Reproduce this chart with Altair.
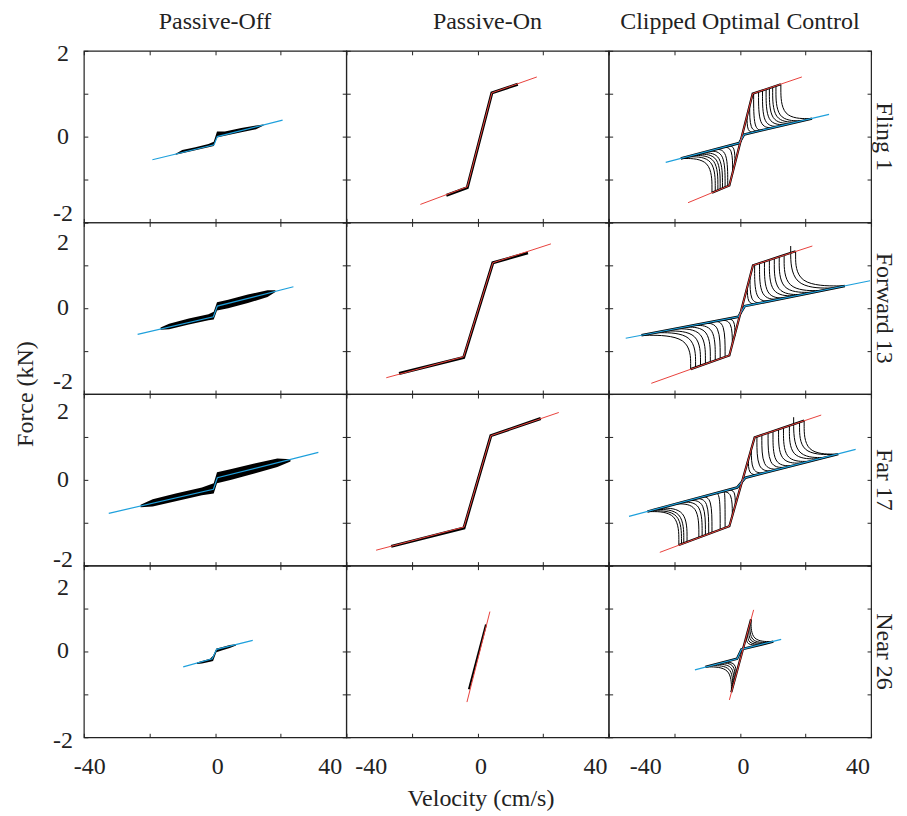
import altair as alt
import pandas as pd

FONT = "Liberation Serif"
FS = 24
INK = "#222222"
BLUE = "#1ea0dc"
RED = "#e8413c"
W, H = 263, 172

# ---------------- text ----------------
col_titles = ["Passive-Off", "Passive-On", "Clipped Optimal Control"]
row_titles = ["Fling 1", "Forward 13", "Far 17", "Near 26"]
x_title = "Velocity (cm/s)"
y_title = "Force (kN)"
x_tick_values = [-40, -20, 0, 20, 40]
y_tick_values = [-2, -1, 0, 1, 2]
x_tick_labels = ["-40", "0", "40"]
y_tick_labels = ["2", "0", "-2"]
# where the printed tick labels sit in the figure (data units)
y_label_at = [[1.93, 0, -1.8], [1.52, 0, -1.73], [1.58, 0, -1.86], [1.48, 0, -2.09]]
x_label_at = [[-38.2, 0.8, 35.1], [-32.4, 1.1, 36.0], [-28.7, 1.1, 36.0]]

# ---------------- Fling 1 ----------------
fling_off_blue = [(-19.1, -0.54), (-0.3, -0.19), (0.7, 0.0), (20.6, 0.385)]
fling_off_band = [(-12, -0.42, -0.40), (-10, -0.39, -0.31), (-6, -0.32, -0.25), (-2, -0.25, -0.17),
                  (-0.4, -0.22, -0.12), (0.6, -0.02, 0.12), (3, 0.02, 0.12), (8, 0.10, 0.20),
                  (12.5, 0.17, 0.26), (14.8, 0.26, 0.28)]
fling_on_red = [(-17.4, -1.58), (-3.1, -1.17), (4.4, 1.02), (18.1, 1.39)]
fling_on_black = [(-9.5, -1.37), (-3.1, -1.19), (4.4, 1.02), (12.3, 1.22)]
fling_coc_red = [(-15.8, -1.54), (-3.2, -1.14), (3.9, 1.0), (18.9, 1.39)]
fling_coc_blue = [(-22.6, -0.6), (-0.2, -0.15), (1.3, 0.05), (27.2, 0.52)]
fling_coc_red_black = [(-8.5, -1.31), (-3.2, -1.14), (3.9, 1.0), (12.5, 1.22)]
fling_coc_blue_black = [(-18, -0.51), (-0.2, -0.15), (1.3, 0.05), (22, 0.42)]
fling_coc_up = [(2.2, 0.5, 4.5, 0.1), (3.0, 0.75, 6, 0.13),
                (4.2, 1.01, 7, 0.15), (5.7, 1.05, 10, 0.21), (6.9, 1.08, 12, 0.24), (8.0, 1.11, 14, 0.28),
                (9.0, 1.13, 16, 0.31), (10.0, 1.16, 17.5, 0.34), (11.0, 1.18, 19, 0.37), (12.5, 1.22, 22, 0.42)]
fling_coc_down = [(-1.5, -0.65, -3.5, -0.22), (-2.2, -0.85, -5, -0.25),
                  (-8.5, -1.31, -18, -0.51), (-7.5, -1.28, -16, -0.47), (-6.7, -1.25, -14.5, -0.44),
                  (-6.0, -1.23, -13, -0.41), (-5.3, -1.21, -11.5, -0.38), (-4.5, -1.18, -9.5, -0.34),
                  (-3.7, -1.16, -7.5, -0.30)]

# ---------------- Forward 13 ----------------
forward_off_blue = [(-23.6, -0.61), (-0.5, -0.2), (0.7, 0.05), (23.9, 0.50)]
forward_off_band = [(-16.6, -0.50, -0.45), (-14, -0.49, -0.36), (-8, -0.38, -0.24), (-2, -0.28, -0.14),
                    (-0.4, -0.26, -0.08), (0.6, -0.05, 0.14), (4, 0.0, 0.2), (10, 0.12, 0.32),
                    (16, 0.26, 0.42), (18.4, 0.38, 0.42)]
forward_on_red = [(-27.8, -1.62), (-4.2, -1.13), (4.7, 1.06), (22.4, 1.5)]
forward_on_black = [(-23.9, -1.52), (-4.2, -1.15), (4.7, 1.06), (15.4, 1.29)]
forward_coc_red = [(-27.0, -1.75), (-3.2, -1.1), (4.0, 1.0), (22.1, 1.45)]
forward_coc_blue = [(-34.8, -0.7), (-0.5, -0.2), (1.5, 0.05), (39.7, 0.64)]
forward_coc_red_black = [(-15, -1.42), (-3.2, -1.1), (4.0, 1.0), (17, 1.33)]
forward_coc_blue_black = [(-30, -0.63), (-0.5, -0.2), (1.5, 0.05), (32, 0.52)]
forward_coc_up = [(2.3, 0.5, 5, 0.1), (3.1, 0.75, 6.5, 0.13),
                  (4.5, 1.01, 9, 0.17), (6, 1.05, 12, 0.21), (7.5, 1.09, 14, 0.24), (9, 1.13, 17, 0.29),
                  (10.5, 1.16, 19, 0.32), (12, 1.2, 22, 0.37), (13.5, 1.24, 25, 0.41), (15.5, 1.45, 29, 0.47),
                  (17, 1.33, 32, 0.52)]
forward_coc_down = [(-1.5, -0.65, -4, -0.25), (-2.3, -0.88, -6, -0.28),
                    (-4.5, -1.14, -8, -0.31), (-6, -1.18, -11, -0.35), (-7.5, -1.22, -14, -0.40),
                    (-9, -1.26, -17, -0.44), (-10.5, -1.30, -20, -0.48), (-12, -1.34, -23, -0.53),
                    (-13.5, -1.38, -26, -0.57), (-15, -1.42, -30, -0.63)]

# ---------------- Far 17 ----------------
far_off_blue = [(-32.4, -0.78), (-0.5, -0.22), (0.7, 0.05), (31.5, 0.64)]
far_off_band = [(-22.7, -0.64, -0.58), (-19, -0.62, -0.45), (-12, -0.50, -0.32), (-4, -0.36, -0.18),
                (-0.4, -0.32, -0.08), (0.6, -0.08, 0.18), (5, 0.0, 0.25), (12, 0.15, 0.38),
                (19, 0.3, 0.5), (23, 0.43, 0.48)]
far_on_red = [(-30.9, -1.64), (-4.1, -1.1), (4.1, 1.03), (24.8, 1.57)]
far_on_black = [(-26.3, -1.55), (-4.1, -1.12), (4.1, 1.03), (19.3, 1.43)]
far_coc_red = [(-24.4, -1.69), (-3.2, -1.08), (4.5, 0.99), (24.8, 1.51)]
far_coc_blue = [(-33.8, -0.85), (-0.85, -0.18), (1.7, 0.05), (35.3, 0.71)]
far_coc_red_black = [(-18.6, -1.52), (-3.2, -1.08), (4.5, 0.99), (19.6, 1.38)]
far_coc_blue_black = [(-28.2, -0.74), (-0.85, -0.18), (1.7, 0.05), (30, 0.6)]
far_coc_up = [(2.6, 0.5, 5.5, 0.12), (3.5, 0.75, 7.5, 0.16),
              (5.2, 1.01, 9.8, 0.21), (6.7, 1.05, 11.8, 0.25), (8.6, 1.09, 13.8, 0.29), (10.1, 1.13, 15.8, 0.33),
              (11.8, 1.18, 18.9, 0.39), (13.3, 1.22, 20.9, 0.43), (15.1, 1.26, 23.9, 0.49),
              (16.4, 1.46, 25.9, 0.52), (18.2, 1.34, 29.0, 0.59), (19.6, 1.38, 30.0, 0.60)]
far_coc_down = [(-1.4, -0.6, -3.5, -0.24), (-2.3, -0.85, -5.5, -0.28),
                (-18.6, -1.52, -28.2, -0.74), (-17.8, -1.50, -27.2, -0.72), (-17.1, -1.48, -26.2, -0.69),
                (-16.1, -1.45, -24.7, -0.66), (-12.5, -1.35, -19.6, -0.56), (-11.5, -1.32, -17.6, -0.52),
                (-10.5, -1.29, -15.5, -0.48), (-9.5, -1.26, -13.5, -0.44), (-8.5, -1.23, -11.5, -0.40),
                (-6.0, -1.16, -7.5, -0.31), (-4.5, -1.12, -5.0, -0.26)]

# ---------------- Near 26 ----------------
near_off_blue = [(-9.7, -0.36), (-0.85, -0.17), (0.5, 0.05), (11.5, 0.26)]
near_off_band = [(-5.5, -0.29, -0.26), (-4, -0.28, -0.22), (-1.5, -0.24, -0.17), (-0.6, -0.22, -0.1),
                 (0.4, -0.02, 0.07), (2, 0.02, 0.1), (4.5, 0.08, 0.15), (6.4, 0.14, 0.17)]
near_on_red = [(-3.2, -1.18), (3.8, 0.93)]
near_on_black = [(-2.6, -0.88), (2.6, 0.63)]
near_coc_red = [(-3.2, -1.13), (4.2, 0.97)]
near_coc_blue = [(-13.7, -0.43), (-0.85, -0.17), (0.5, 0.05), (12.6, 0.28)]
near_coc_red_black = [(-2.6, -0.95), (3.4, 0.75)]
near_coc_blue_black = [(-10.5, -0.36), (-0.85, -0.17), (0.5, 0.05), (10.2, 0.23)]
near_coc_up = [(2.01, 0.35, 5.7, 0.15), (2.36, 0.45, 6.7, 0.17), (2.72, 0.55, 7.7, 0.19),
               (3.07, 0.65, 8.7, 0.21), (3.42, 0.75, 10.2, 0.23)]
near_coc_down = [(-1.16, -0.55, -5, -0.25), (-1.51, -0.65, -6, -0.27), (-1.86, -0.75, -7.5, -0.30),
                 (-2.21, -0.85, -9, -0.33), (-2.57, -0.95, -10.5, -0.36)]

off_blue = [fling_off_blue, forward_off_blue, far_off_blue, near_off_blue]
off_band = [fling_off_band, forward_off_band, far_off_band, near_off_band]
on_red = [fling_on_red, forward_on_red, far_on_red, near_on_red]
on_black = [fling_on_black, forward_on_black, far_on_black, near_on_black]
coc_red = [fling_coc_red, forward_coc_red, far_coc_red, near_coc_red]
coc_blue = [fling_coc_blue, forward_coc_blue, far_coc_blue, near_coc_blue]
coc_red_black = [fling_coc_red_black, forward_coc_red_black, far_coc_red_black, near_coc_red_black]
coc_blue_black = [fling_coc_blue_black, forward_coc_blue_black, far_coc_blue_black, near_coc_blue_black]
coc_up = [fling_coc_up, forward_coc_up, far_coc_up, near_coc_up]
coc_down = [fling_coc_down, forward_coc_down, far_coc_down, near_coc_down]

# ---------------- building blocks ----------------
xs = alt.Scale(domain=[-40, 40], nice=False, zero=False)
ys = alt.Scale(domain=[-2, 2], nice=False, zero=False)


def X(f="v"):
    return alt.X(f"{f}:Q", scale=xs, axis=None)


def Y(f="f"):
    return alt.Y(f"{f}:Q", scale=ys, axis=None)


def tick_axis(orient, values):
    return alt.Axis(orient=orient, values=values, tickSize=4, offset=-4, domain=False,
                    labels=False, grid=False, title=None, tickColor=INK, tickWidth=1)


def axes_layers():
    d = pd.DataFrame({"v": [0], "f": [0]})
    a = alt.Chart(d).mark_point(opacity=0).encode(
        x=alt.X("v:Q", scale=xs, axis=tick_axis("bottom", x_tick_values)),
        y=alt.Y("f:Q", scale=ys, axis=tick_axis("left", y_tick_values)))
    b = alt.Chart(d).mark_point(opacity=0).encode(
        x=alt.X("v:Q", scale=xs, axis=tick_axis("top", x_tick_values)),
        y=alt.Y("f:Q", scale=ys, axis=tick_axis("right", y_tick_values)))
    return [a, b]


def line(points, color, width):
    df = pd.DataFrame({"v": [p[0] for p in points], "f": [p[1] for p in points],
                       "o": list(range(len(points)))})
    return alt.Chart(df).mark_line(color=color, strokeWidth=width, clip=True).encode(
        x=X(), y=Y(), order="o:Q")


def band(rows):
    df = pd.DataFrame(rows, columns=["v", "lo", "hi"])
    return alt.Chart(df).mark_area(color="black", clip=True).encode(x=X(), y=Y("lo"), y2="hi:Q")


def curves(rows):
    recs = []
    for i, (v0, f0, v1, f1) in enumerate(rows):
        for o, (v, f) in enumerate([(v0, f0), (v0, f1), (v1, f1)]):
            recs.append({"id": i, "o": o, "v": v, "f": f})
    return alt.Chart(pd.DataFrame(recs)).mark_line(
        color="black", strokeWidth=1, interpolate="basis", clip=True).encode(
        x=X(), y=Y(), detail="id:N", order="o:Q")


def text(df, x, y, **kw):
    return alt.Chart(df).mark_text(font=FONT, fontSize=FS, color=INK, **kw).encode(
        x=x, y=y, text="t:N")


panels = []
for r in range(4):
    for c in range(3):
        layers = axes_layers()
        if c == 0:
            layers += [band(off_band[r]), line(off_blue[r], BLUE, 1.2)]
        elif c == 1:
            layers += [line(on_black[r], "black", 3 if r < 3 else 2), line(on_red[r], RED, 1)]
        else:
            layers += [curves(coc_up[r]), curves(coc_down[r]),
                       line(coc_blue_black[r], "black", 2.5), line(coc_red_black[r], "black", 2.2),
                       line(coc_blue[r], BLUE, 1.2), line(coc_red[r], RED, 1)]
        if r == 0:
            tx = [W / 2, W / 2 + 10, W / 2][c]
            layers.append(text(pd.DataFrame({"t": [col_titles[c]]}), alt.value(tx), alt.value(-29),
                               baseline="middle", align="center"))
        if c == 2:
            layers.append(text(pd.DataFrame({"t": [row_titles[r]]}), alt.value(W + 13), alt.value(H / 2),
                               baseline="middle", align="center", angle=90))
        if c == 0:
            layers.append(text(pd.DataFrame({"t": y_tick_labels, "p": y_label_at[r]}),
                               alt.value(-21), Y("p"), baseline="middle", align="center"))
        if r == 3:
            layers.append(text(pd.DataFrame({"t": x_tick_labels, "p": x_label_at[c]}),
                               X("p"), alt.value(H + 30), baseline="middle", align="center"))
        if r == 1 and c == 0:
            layers.append(text(pd.DataFrame({"t": [y_title]}), alt.value(-58), alt.value(H),
                               baseline="middle", align="center", angle=270))
        if r == 3 and c == 1:
            layers.append(text(pd.DataFrame({"t": [x_title]}), alt.value(135), alt.value(H + 62),
                               baseline="middle", align="center"))
        panel = alt.layer(*layers).resolve_axis(x="independent", y="independent").properties(
            width=W, height=H)
        panels.append(panel)

chart = alt.concat(*panels, columns=3, spacing=0, bounds="flush").properties(
    padding={"left": 5, "top": 0, "right": 2, "bottom": 5}, background="white"
).configure_view(stroke=INK, strokeWidth=1.2)

chart.save("out.html", embed_options={"renderer": "svg", "actions": False})
